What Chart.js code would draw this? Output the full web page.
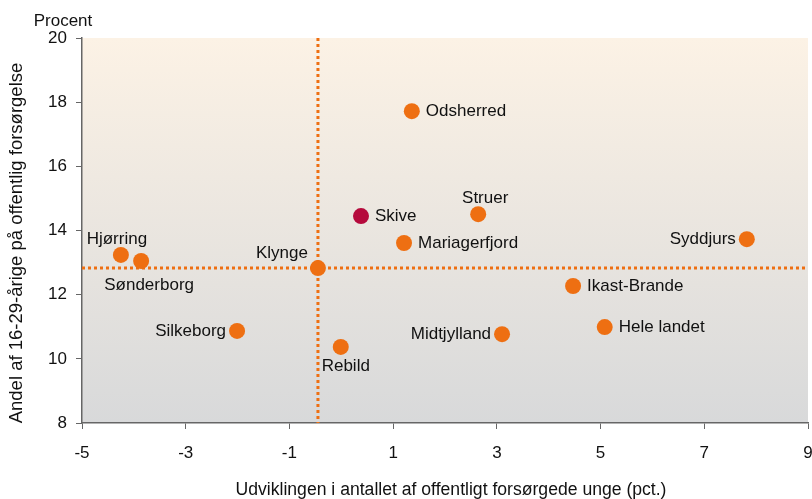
<!DOCTYPE html>
<html>
<head>
<meta charset="utf-8">
<script src="https://cdn.jsdelivr.net/npm/chart.js@4/dist/chart.umd.min.js"></script>
<style>
  html, body { margin: 0; padding: 0; background: #fff; }
  #wrap { width: 812px; height: 499px; }
</style>
</head>
<body>
<div id="wrap"><canvas id="chartKommuner" width="812" height="499"></canvas></div>
<script>
// Kommuner: udvikling i antal offentligt forsørgede unge (x) og andel 16-29-årige på forsørgelse (y)
const kommuner = ['Odsherred', 'Skive', 'Struer', 'Mariagerfjord', 'Klynge', 'Hjørring', 'Sønderborg',
                  'Silkeborg', 'Rebild', 'Midtjylland', 'Ikast-Brande', 'Hele landet', 'Syddjurs'];
const udvikling = [1.36, 0.38, 2.64, 1.21, -0.45, -4.25, -3.86, -2.01, -0.01, 3.10, 4.47, 5.08, 7.82];
const andel = [17.72, 14.45, 14.51, 13.61, 12.83, 13.24, 13.05, 10.87, 10.37, 10.77, 12.27, 10.99, 13.73];
const xTicks = [-5, -3, -1, 1, 3, 5, 7, 9];
const yTicks = [8, 10, 12, 14, 16, 18, 20];
const klyngeX = -0.45;   // lodret referencelinje
const klyngeY = 12.83;   // vandret referencelinje
const fremhaevet = 'Skive';

// placering af etiketter i forhold til punktet
const etiketPlacering = ['right', 'right', 'above', 'right', 'aboveLeft', 'aboveLeft', 'below',
                         'left', 'below', 'left', 'right', 'right', 'left'];

const ORANGE = '#ee6f12';
const KARMIN = '#b50a3c';
const FONT = '"Liberation Sans", Arial, sans-serif';
const PLOT_HOEJRE = 808; // højre kant af plotområdet

// tving plotområdet helt ud til højre kant (Chart.js reserverer plads til "9")
const plotBredde = {
    id: 'plotBredde',
    afterLayout(chart) {
        const a = chart.chartArea;
        const x = chart.scales.x;
        a.right = PLOT_HOEJRE;
        a.width = a.right - a.left;
        x.left = a.left;
        x.right = PLOT_HOEJRE;
        x.width = x.right - x.left;
        x.configure();
    }
};

const baggrund = {
    id: 'baggrund',
    beforeDraw(chart) {
        const { ctx, chartArea: a } = chart;
        const g = ctx.createLinearGradient(0, a.top, 0, a.bottom);
        g.addColorStop(0, '#fcf2e5');
        g.addColorStop(1, '#d8d9da');
        ctx.save();
        ctx.fillStyle = g;
        ctx.fillRect(a.left, a.top, a.right - a.left, a.bottom - a.top);
        ctx.restore();
    }
};

const referenceLinjer = {
    id: 'referenceLinjer',
    beforeDatasetsDraw(chart) {
        const { ctx, chartArea: a, scales } = chart;
        const px = scales.x.getPixelForValue(klyngeX);
        const py = scales.y.getPixelForValue(klyngeY);
        ctx.save();
        ctx.strokeStyle = ORANGE;
        ctx.lineWidth = 3;
        ctx.setLineDash([3, 3]);
        ctx.beginPath();
        ctx.moveTo(px, a.top);
        ctx.lineTo(px, a.bottom);
        ctx.moveTo(a.left, py);
        ctx.lineTo(a.right, py);
        ctx.stroke();
        ctx.restore();
    }
};

const etiketter = {
    id: 'etiketter',
    afterDatasetsDraw(chart) {
        const { ctx, scales } = chart;
        ctx.save();
        ctx.font = '17px ' + FONT;
        ctx.fillStyle = '#111';
        kommuner.forEach((navn, i) => {
            const px = scales.x.getPixelForValue(udvikling[i]);
            const py = scales.y.getPixelForValue(andel[i]);
            let tx = px, ty = py, align = 'left';
            switch (etiketPlacering[i]) {
                case 'right': tx = px + 14; align = 'left'; break;
                case 'left': tx = px - 11; align = 'right'; break;
                case 'above': ty = py - 16; align = 'center'; tx = px + 7; break;
                case 'below': ty = py + 19; align = 'center'; tx = px + 5; break;
                case 'aboveLeft': tx = px - 10; ty = py - 15; align = 'right'; break;
            }
            if (navn === 'Sønderborg') { tx = px + 8; ty = py + 24; }
            if (navn === 'Hjørring') { tx = px - 4; ty = py - 16; align = 'center'; }
            ctx.textAlign = align;
            ctx.textBaseline = 'middle';
            ctx.fillText(navn, tx, ty);
        });

        // aksetitler
        ctx.textAlign = 'center';
        ctx.textBaseline = 'middle';
        ctx.fillText('Procent', 63, 21);
        ctx.font = '17.6px ' + FONT;
        ctx.fillText('Udviklingen i antallet af offentligt forsørgede unge (pct.)', 451, 490);
        ctx.font = '18.5px ' + FONT;
        ctx.translate(17, 243);
        ctx.rotate(-Math.PI / 2);
        ctx.fillText('Andel af 16-29-årige på offentlig forsørgelse', 0, 0);
        ctx.restore();
    }
};

new Chart(document.getElementById('chartKommuner'), {
    type: 'scatter',
    data: {
        datasets: [{
            label: 'Kommuner',
            data: kommuner.map((k, i) => ({ x: udvikling[i], y: andel[i] })),
            backgroundColor: kommuner.map(k => k === fremhaevet ? KARMIN : ORANGE),
            borderWidth: 0,
            pointRadius: 8,
            pointHoverRadius: 8
        }]
    },
    options: {
        responsive: false,
        animation: false,
        devicePixelRatio: 1,
        layout: { padding: { top: 38, right: 0, left: 0, bottom: 0 } },
        plugins: { legend: { display: false }, tooltip: { enabled: false } },
        scales: {
            x: {
                type: 'linear',
                min: -5, max: 9,
                afterBuildTicks: s => { s.ticks = xTicks.map(v => ({ value: v })); },
                afterFit: s => { s.height = 76; s.paddingLeft = 0; s.paddingRight = 0; },
                border: { color: '#666', width: 1.5 },
                grid: { drawOnChartArea: false, drawTicks: true, tickLength: 6, color: '#666' },
                ticks: { color: '#111', font: { family: FONT, size: 17 }, padding: 14, maxRotation: 0 }
            },
            y: {
                type: 'linear',
                min: 8, max: 20,
                afterBuildTicks: s => { s.ticks = yTicks.map(v => ({ value: v })); },
                afterFit: s => { s.width = 82; },
                border: { color: '#666', width: 1.5 },
                grid: { drawOnChartArea: false, drawTicks: true, tickLength: 6, color: '#666' },
                ticks: { color: '#111', font: { family: FONT, size: 17 }, padding: 9 }
            }
        }
    },
    plugins: [plotBredde, baggrund, referenceLinjer, etiketter]
});
</script>
</body>
</html>
